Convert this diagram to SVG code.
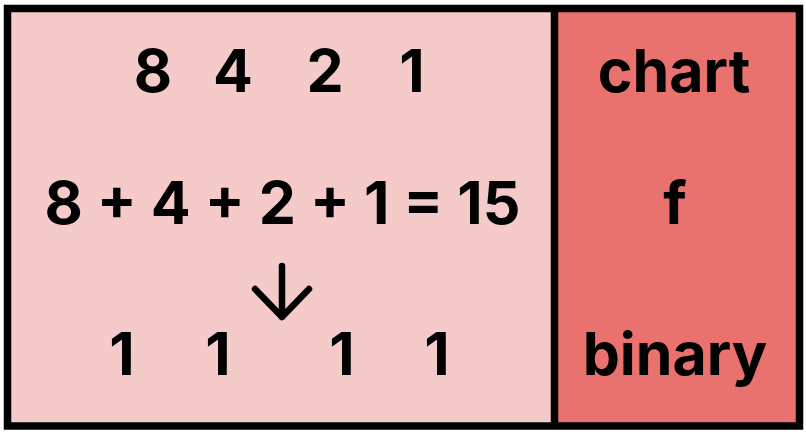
<svg xmlns="http://www.w3.org/2000/svg" width="806" height="434" viewBox="0 0 806 434">
<style>
.t{font-family:Inter,"Liberation Sans",sans-serif;font-weight:700;font-size:59px;fill:#000;text-anchor:middle}
</style>
<rect x="0" y="0" width="806" height="434" fill="#ffffff"/>
<g id="left-panel">
<rect x="7.5" y="8.5" width="547" height="417.5" fill="#F5CBC9"/>
<text class="t" x="153" y="92">8</text>
<text class="t" x="233" y="92">4</text>
<text class="t" x="325" y="92">2</text>
<text class="t" x="412" y="92">1</text>
<text class="t" x="282.5" y="224">8 + 4 + 2 + 1 = 15</text>
<text class="t" x="122" y="375">1</text>
<text class="t" x="218" y="375">1</text>
<text class="t" x="342" y="375">1</text>
<text class="t" x="437" y="375">1</text>
</g>
<g id="right-panel">
<rect x="554.5" y="8.5" width="245" height="417.5" fill="#E9726F"/>
<text class="t" x="674" y="92">chart</text>
<text class="t" x="675" y="224">f</text>
<text class="t" x="675" y="375">binary</text>
</g>
<g id="connectors" fill="none" stroke="#000" stroke-width="6.5" stroke-linecap="round" stroke-linejoin="round">
<path d="M282 266V317M255 289L282 317L309 289"/>
</g>
<g id="frame" fill="none" stroke="#000" stroke-width="7.5">
<rect x="7.5" y="8.5" width="792" height="417.5"/>
<line x1="554.5" y1="8.5" x2="554.5" y2="426"/>
</g>
</svg>
